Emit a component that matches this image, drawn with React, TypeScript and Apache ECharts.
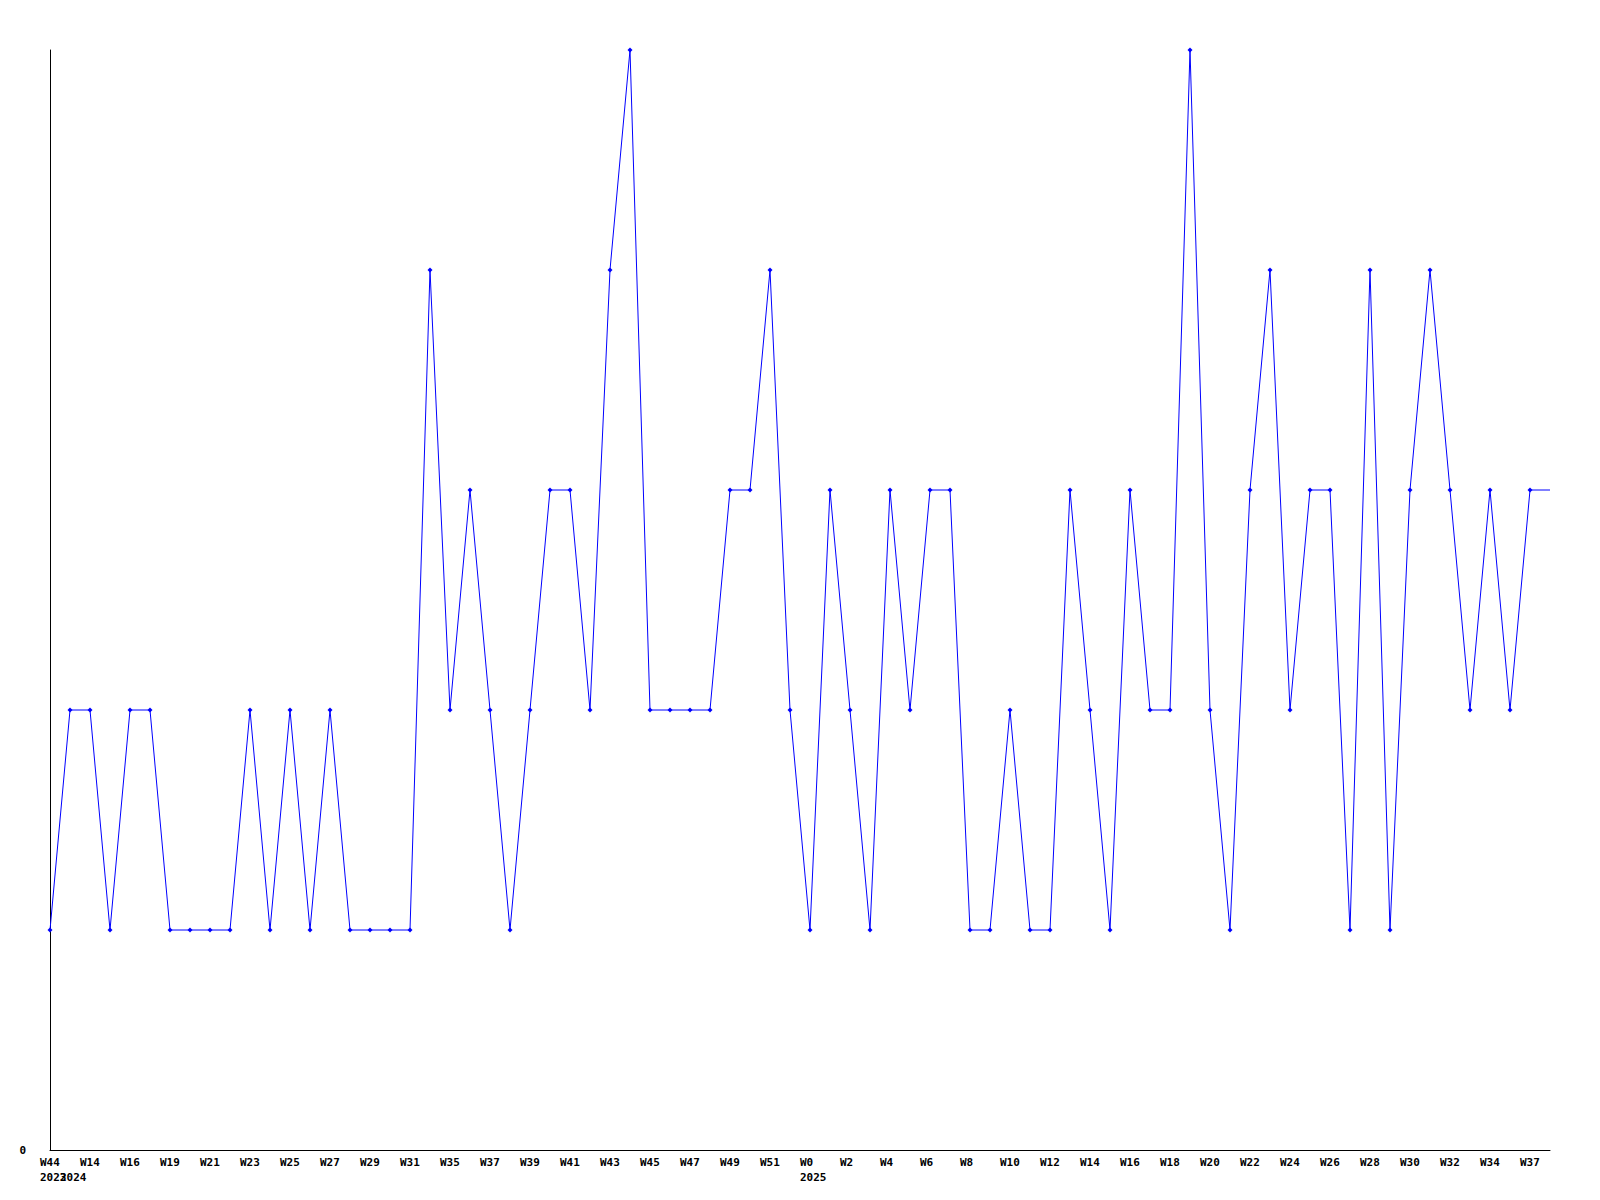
import React, { useEffect, useRef } from "react";
import * as echarts from "echarts";

const weeks: string[] = [
  "W44", "W13", "W14", "W15", "W16", "W18", "W19", "W20", "W21", "W22",
  "W23", "W24", "W25", "W26", "W27", "W28", "W29", "W30", "W31", "W34",
  "W35", "W36", "W37", "W38", "W39", "W40", "W41", "W42", "W43", "W44",
  "W45", "W46", "W47", "W48", "W49", "W50", "W51", "W52", "W0", "W1",
  "W2", "W3", "W4", "W5", "W6", "W7", "W8", "W9", "W10", "W11",
  "W12", "W13", "W14", "W15", "W16", "W17", "W18", "W19", "W20", "W21",
  "W22", "W23", "W24", "W25", "W26", "W27", "W28", "W29", "W30", "W31",
  "W32", "W33", "W34", "W36", "W37", "W38",
];

const years: string[] = [
  "2023", "2024", "2024", "2024", "2024", "2024", "2024", "2024", "2024", "2024",
  "2024", "2024", "2024", "2024", "2024", "2024", "2024", "2024", "2024", "2024",
  "2024", "2024", "2024", "2024", "2024", "2024", "2024", "2024", "2024", "2024",
  "2024", "2024", "2024", "2024", "2024", "2024", "2024", "2024", "2025", "2025",
  "2025", "2025", "2025", "2025", "2025", "2025", "2025", "2025", "2025", "2025",
  "2025", "2025", "2025", "2025", "2025", "2025", "2025", "2025", "2025", "2025",
  "2025", "2025", "2025", "2025", "2025", "2025", "2025", "2025", "2025", "2025",
  "2025", "2025", "2025", "2025", "2025", "2025",
];

const values: number[] = [
  1, 2, 2, 1, 2, 2, 1, 1, 1, 1,
  2, 1, 2, 1, 2, 1, 1, 1, 1, 4,
  2, 3, 2, 1, 2, 3, 3, 2, 4, 5,
  2, 2, 2, 2, 3, 3, 4, 2, 1, 3,
  2, 1, 3, 2, 3, 3, 1, 1, 2, 1,
  1, 3, 2, 1, 3, 2, 2, 5, 2, 1,
  3, 4, 2, 3, 3, 1, 4, 1, 3, 4,
  3, 2, 3, 2, 3, 3,
];

const yTicks: number[] = [0, 5];

export default function App() {
  const ref = useRef<HTMLDivElement>(null);
  useEffect(() => {
    if (!ref.current) return;
    const chart = echarts.init(ref.current, undefined, { renderer: "svg" });
    const font = "DejaVu Sans Mono";
    const lastIdx = values.length - 1;
    chart.setOption({
      animation: false,
      backgroundColor: "#ffffff",
      grid: { left: 50, right: 50, top: 50, bottom: 50, containLabel: false },
      xAxis: {
        type: "category",
        data: weeks,
        boundaryGap: false,
        axisLine: { show: true, lineStyle: { color: "#000000", width: 1 } },
        axisTick: { show: false },
        splitLine: { show: false },
        axisLabel: {
          interval: 0,
          align: "center",
          margin: 5,
          color: "#000000",
          fontFamily: font,
          fontWeight: "bold",
          fontSize: 11,
          lineHeight: 15,
          formatter: (_v: string, i: number) => {
            const wk = i % 2 === 0 && i !== lastIdx ? weeks[i] : "";
            const yr = i === 0 || years[i] !== years[i - 1] ? years[i] : "";
            const top = `{a|${wk}}`;
            return yr ? `${top}\n{a|${yr}}` : top;
          },
          rich: {
            a: {
              width: 20,
              align: "left",
              fontFamily: font,
              fontWeight: "bold",
              fontSize: 11,
              lineHeight: 15,
              color: "#000000",
            },
          },
        },
      },
      yAxis: {
        type: "value",
        min: yTicks[0],
        max: yTicks[1],
        interval: 5,
        axisLine: { show: true, lineStyle: { color: "#000000", width: 1 } },
        axisTick: { show: false },
        splitLine: { show: false },
        axisLabel: {
          margin: 24,
          color: "#000000",
          fontFamily: font,
          fontWeight: "bold",
          fontSize: 11,
          formatter: (v: number) => (v === 0 ? "0" : ""),
        },
      },
      series: [
        {
          type: "line",
          data: values.map((v, i) =>
            i === lastIdx ? { value: v, symbol: "none" } : v
          ),
          symbol: "diamond",
          symbolSize: 5,
          showAllSymbol: true,
          lineStyle: { color: "#0000ff", width: 1 },
          itemStyle: { color: "#0000ff" },
        },
      ],
    });
    return () => chart.dispose();
  }, []);
  return <div ref={ref} style={{ width: 1600, height: 1200, margin: -8 }} />;
}
